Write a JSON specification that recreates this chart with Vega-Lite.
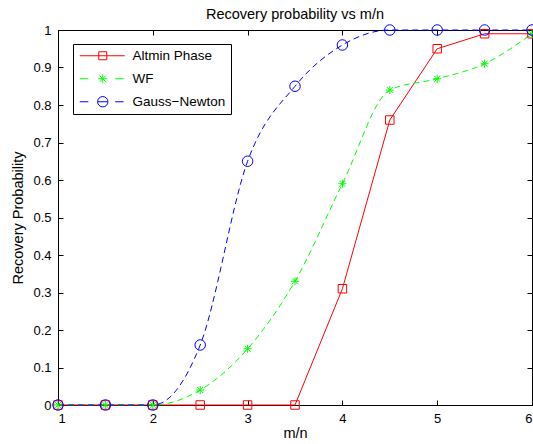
{
  "$schema": "https://vega.github.io/schema/vega-lite/v6.json",
  "width": 474,
  "height": 375,
  "autosize": "none",
  "padding": {"left": 58, "top": 30, "right": 1, "bottom": 39},
  "background": "white",
  "title": {"text": "Recovery probability vs m/n", "fontSize": 14.5, "font": "Liberation Sans", "fontWeight": "normal", "color": "black", "offset": 0},
  "config": {
    "font": "Liberation Sans",
    "view": {"stroke": "black", "strokeWidth": 1},
    "axis": {
      "domainColor": "black", "tickColor": "black", "labelColor": "black", "titleColor": "black",
      "labelFont": "Liberation Sans", "titleFont": "Liberation Sans",
      "labelFontSize": 13, "titleFontSize": 14.5, "titleFontWeight": "normal",
      "grid": false, "tickSize": -5, "domainWidth": 1, "tickWidth": 1
    },
    "legend": {"labelFont": "Liberation Sans", "labelFontSize": 13.5, "labelColor": "black"}
  },
  "data": {"values": [
    {"x": 1, "series": "Altmin Phase", "p": 0},
    {"x": 1.5, "series": "Altmin Phase", "p": 0},
    {"x": 2, "series": "Altmin Phase", "p": 0},
    {"x": 2.5, "series": "Altmin Phase", "p": 0},
    {"x": 3, "series": "Altmin Phase", "p": 0},
    {"x": 3.5, "series": "Altmin Phase", "p": 0},
    {"x": 4, "series": "Altmin Phase", "p": 0.31},
    {"x": 4.5, "series": "Altmin Phase", "p": 0.76},
    {"x": 5, "series": "Altmin Phase", "p": 0.95},
    {"x": 5.5, "series": "Altmin Phase", "p": 0.99},
    {"x": 6, "series": "Altmin Phase", "p": 0.99},
    {"x": 1, "series": "WF", "p": 0},
    {"x": 1.5, "series": "WF", "p": 0},
    {"x": 2, "series": "WF", "p": 0},
    {"x": 2.5, "series": "WF", "p": 0.04},
    {"x": 3, "series": "WF", "p": 0.15},
    {"x": 3.5, "series": "WF", "p": 0.33},
    {"x": 4, "series": "WF", "p": 0.59},
    {"x": 4.5, "series": "WF", "p": 0.84},
    {"x": 5, "series": "WF", "p": 0.87},
    {"x": 5.5, "series": "WF", "p": 0.91},
    {"x": 6, "series": "WF", "p": 0.99},
    {"x": 1, "series": "Gauss−Newton", "p": 0},
    {"x": 1.5, "series": "Gauss−Newton", "p": 0},
    {"x": 2, "series": "Gauss−Newton", "p": 0},
    {"x": 2.5, "series": "Gauss−Newton", "p": 0.16},
    {"x": 3, "series": "Gauss−Newton", "p": 0.65},
    {"x": 3.5, "series": "Gauss−Newton", "p": 0.85},
    {"x": 4, "series": "Gauss−Newton", "p": 0.96},
    {"x": 4.5, "series": "Gauss−Newton", "p": 1},
    {"x": 5, "series": "Gauss−Newton", "p": 1},
    {"x": 5.5, "series": "Gauss−Newton", "p": 1},
    {"x": 6, "series": "Gauss−Newton", "p": 1}
  ]},
  "resolve": {"axis": {"x": "independent", "y": "independent"}},
  "layer": [
    {
      "transform": [{"filter": "datum.series === 'Altmin Phase'"}],
      "mark": {"type": "line", "strokeWidth": 1, "clip": false},
      "encoding": {
        "x": {"field": "x", "type": "quantitative", "scale": {"domain": [1, 6], "nice": false, "zero": false},
              "axis": {"values": [1, 2, 3, 4, 5, 6], "title": "m/n", "labelPadding": 12, "titleY": 21, "titleBaseline": "top"}},
        "y": {"field": "p", "type": "quantitative", "scale": {"domain": [0, 1], "nice": false},
              "axis": {"values": [0, 0.1, 0.2, 0.3, 0.4, 0.5, 0.6, 0.7, 0.8, 0.9, 1], "format": ".1~f", "title": "Recovery Probability", "labelPadding": 12, "titleX": -40, "titleBaseline": "middle"}},
        "color": {"field": "series", "type": "nominal",
                  "scale": {"domain": ["Altmin Phase", "WF", "Gauss−Newton"], "range": ["#ff0000", "#00ff00", "#0000ff"]},
                  "legend": {
                    "title": null, "orient": "none", "legendX": 15, "legendY": 14,
                    "strokeColor": "black", "fillColor": "white", "padding": 5,
                    "symbolSize": 64, "symbolOffset": 18, "labelOffset": 23, "rowPadding": 8,
                    "symbolStrokeWidth": 1,
                    "encode": {"symbols": {"update": {
                      "shape": {"signal": "datum.value === 'Altmin Phase' ? 'M-5.75,0H5.5M-1,-1H1V1H-1Z' : datum.value === 'WF' ? 'M-5.75,0H-3.6M3.1,0H5.2M-1.1,0H1.1M0,-1.1V1.1M-0.8,-0.8L0.8,0.8M-0.8,0.8L0.8,-0.8' : 'M-5.75,0H-3.6M3.1,0H5.2M-1.2,0H1.2M-1.3,0A1.3,1.3 0 1,1 1.3,0A1.3,1.3 0 1,1 -1.3,0Z'"},
                      "fill": {"value": "transparent"},
                      "strokeDash": {"value": []},
                      "strokeWidth": {"value": 1},
                      "size": {"value": 64},
                      "opacity": {"value": 1}
                    }}}
                  }}
      }
    },
    {
      "transform": [{"filter": "datum.series !== 'Altmin Phase'"}],
      "mark": {"type": "line", "strokeWidth": 1, "interpolate": "monotone", "strokeDash": [6, 4], "clip": false},
      "encoding": {
        "x": {"field": "x", "type": "quantitative", "axis": null},
        "y": {"field": "p", "type": "quantitative", "axis": null},
        "color": {"field": "series", "type": "nominal"},
        "detail": {"field": "series"}
      }
    },
    {
      "transform": [{"filter": "datum.series === 'Altmin Phase'"}],
      "mark": {"type": "point", "shape": "square", "size": 72, "filled": false, "strokeWidth": 1, "opacity": 1, "clip": false},
      "encoding": {
        "x": {"field": "x", "type": "quantitative", "axis": null},
        "y": {"field": "p", "type": "quantitative", "axis": null},
        "color": {"field": "series", "type": "nominal"}
      }
    },
    {
      "transform": [{"filter": "datum.series === 'WF'"}],
      "mark": {"type": "point", "shape": "M-1,0H1M0,-1V1M-0.75,-0.75L0.75,0.75M-0.75,0.75L0.75,-0.75", "size": 64, "filled": false, "strokeWidth": 1, "opacity": 1, "clip": false},
      "encoding": {
        "x": {"field": "x", "type": "quantitative", "axis": null},
        "y": {"field": "p", "type": "quantitative", "axis": null},
        "color": {"field": "series", "type": "nominal"}
      }
    },
    {
      "transform": [{"filter": "datum.series === 'Gauss−Newton'"}],
      "mark": {"type": "point", "shape": "circle", "size": 110, "filled": false, "strokeWidth": 1, "opacity": 1, "clip": false},
      "encoding": {
        "x": {"field": "x", "type": "quantitative", "axis": {"orient": "top", "values": [1, 2, 3, 4, 5, 6], "labels": false, "title": null}},
        "y": {"field": "p", "type": "quantitative", "axis": {"orient": "right", "values": [0, 0.1, 0.2, 0.3, 0.4, 0.5, 0.6, 0.7, 0.8, 0.9, 1], "labels": false, "title": null}},
        "color": {"field": "series", "type": "nominal"}
      }
    }
  ]
}
